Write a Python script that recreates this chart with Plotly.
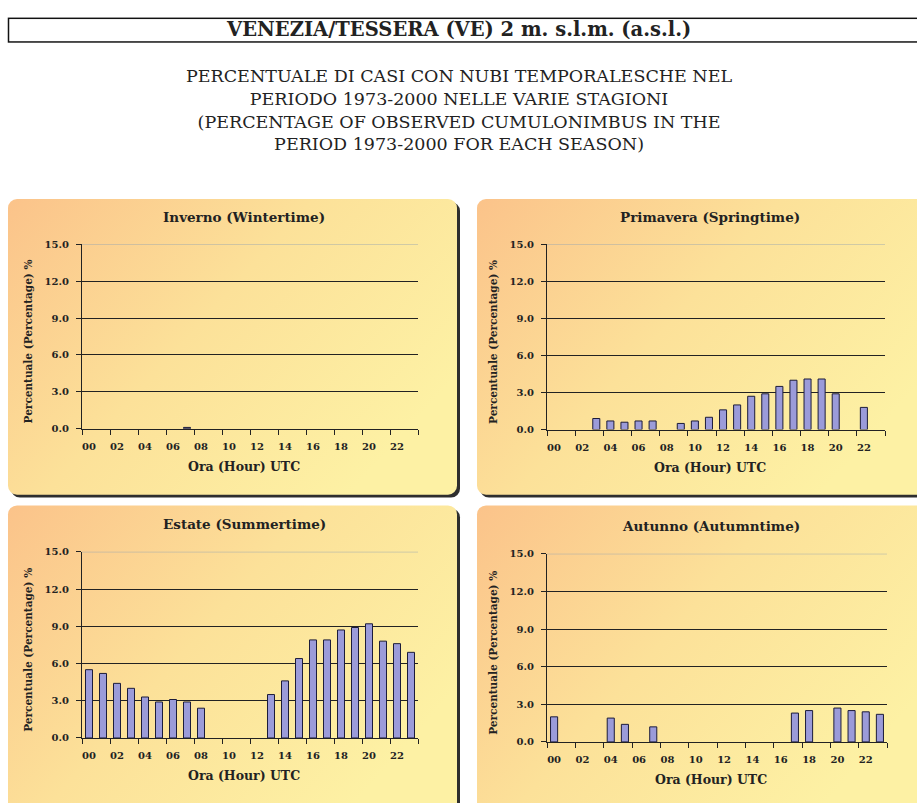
import base64
import plotly.graph_objects as go

W, H = 917, 809

HOURS = ["00", "01", "02", "03", "04", "05", "06", "07", "08", "09", "10", "11",
         "12", "13", "14", "15", "16", "17", "18", "19", "20", "21", "22", "23"]

WINTER = [0, 0, 0, 0, 0, 0, 0, 0.1, 0, 0, 0, 0,
          0, 0, 0, 0, 0, 0, 0, 0, 0, 0, 0, 0]
SPRING = [0, 0, 0, 0.9, 0.7, 0.6, 0.7, 0.7, 0, 0.5, 0.7, 1.0,
          1.6, 2.0, 2.7, 2.9, 3.5, 4.0, 4.1, 4.1, 2.9, 0, 1.8, 0]
SUMMER = [5.5, 5.2, 4.4, 4.0, 3.3, 2.9, 3.1, 2.9, 2.4, 0, 0, 0,
          0, 3.5, 4.6, 6.4, 7.9, 7.9, 8.7, 8.9, 9.2, 7.8, 7.6, 6.9]
AUTUMN = [2.0, 0, 0, 0, 1.9, 1.4, 0, 1.2, 0, 0, 0, 0,
          0, 0, 0, 0, 0, 2.3, 2.5, 0, 2.7, 2.5, 2.4, 2.2]

SEASONS = ["Inverno (Wintertime)", "Primavera (Springtime)",
           "Estate (Summertime)", "Autunno (Autumntime)"]
Y_TICKS = [0, 3, 6, 9, 12, 15]

TITLE = "VENEZIA/TESSERA (VE) 2 m. s.l.m. (a.s.l.)"
SUBTITLE = ("PERCENTUALE DI CASI CON NUBI TEMPORALESCHE NEL<br>"
            "PERIODO 1973-2000 NELLE VARIE STAGIONI<br>"
            "(PERCENTAGE OF OBSERVED CUMULONIMBUS IN THE<br>"
            "PERIOD 1973-2000 FOR EACH SEASON)")
X_TITLE = "Ora (Hour) UTC"
Y_TITLE = "Percentuale (Percentage) %"

SERIF = "DejaVu Serif"
INK = "#222222"

# plot-area boxes in pixels: left, right, top, bottom
boxes = [(82, 418, 242, 429), (547, 885, 242, 430),
         (82, 418, 554, 743), (547, 887, 556, 747)]
# panel cards in pixels: x, y, w, h
cards = [(8, 196, 449, 300), (477, 196, 450, 300),
         (8, 507, 449, 310), (477, 507, 450, 310)]


def px_x(v):
    return v / W


def px_y(v):
    return 1 - v / H


# background: rounded gradient cards + title box, as one svg image
svg = [f'<svg xmlns="http://www.w3.org/2000/svg" width="{W}" height="{H}" viewBox="0 0 {W} {H}" preserveAspectRatio="none">',
       '<defs><linearGradient id="g" x1="0" y1="0" x2="1" y2="0.6">'
       '<stop offset="0" stop-color="#fbc38a"/><stop offset="0.5" stop-color="#fce199"/>'
       '<stop offset="1" stop-color="#fdf1a4"/></linearGradient></defs>']
for x, y, w, h in cards:
    svg.append(f'<rect x="{x + 3}" y="{y + 3}" width="{w}" height="{h}" rx="9" fill="#2e2e2e"/>')
    svg.append(f'<rect x="{x}" y="{y}" width="{w}" height="{h}" rx="9" fill="url(#g)"/>')
svg.append('<rect x="8.5" y="12.5" width="930" height="24" fill="none" stroke="#111" stroke-width="1.5"/>')
svg.append('</svg>')
bg_src = "data:image/svg+xml;base64," + base64.b64encode("".join(svg).encode()).decode()

fig = go.Figure()
layout = dict(
    width=W, height=H, margin=dict(l=0, r=0, t=0, b=0),
    paper_bgcolor="white", plot_bgcolor="#d2ecf7",
    showlegend=False, bargap=0.5,
    images=[dict(source=bg_src, xref="paper", yref="paper", x=0, y=1,
                 sizex=1, sizey=1, sizing="stretch", xanchor="left", yanchor="top",
                 layer="below")],
)
annotations = [
    dict(text=f"<b>{TITLE}</b>", x=0.5, y=px_y(24), font=dict(size=19.5)),
    dict(text=SUBTITLE, x=0.5, y=px_y(106), font=dict(size=17.5)),
]
shapes = []

for i, (name, vals, box) in enumerate(zip(SEASONS, [WINTER, SPRING, SUMMER, AUTUMN], boxes)):
    n = "" if i == 0 else str(i + 1)
    l, r, t, b = box
    fig.add_trace(go.Bar(
        x=list(range(len(HOURS))), y=[v if v else None for v in vals],
        xaxis=f"x{n}", yaxis=f"y{n}",
        marker=dict(color="#9b9bd9", line=dict(color="#1c1c3a", width=1)),
    ))
    layout[f"xaxis{n}"] = dict(
        domain=[px_x(l), px_x(r)], anchor=f"y{n}", range=[-0.5, 23.5],
        tickvals=list(range(0, 24, 2)), ticktext=HOURS[::2],
        ticks="outside", ticklen=0, ticklabelstandoff=8,
        showgrid=False, zeroline=False,
        showline=True, linecolor=INK, linewidth=1.3,
        tickfont=dict(family=SERIF, size=10, color=INK, weight="bold"),
        minor=dict(tick0=-0.5, dtick=2, ticks="outside", ticklen=5,
                   tickcolor=INK, tickwidth=1.3),
    )
    layout[f"yaxis{n}"] = dict(
        domain=[px_y(b), px_y(t)], anchor=f"x{n}", range=[0, 15],
        tickvals=Y_TICKS, tickformat=".1f", ticks="outside", ticklen=5,
        ticklabelstandoff=5,
        tickcolor=INK, tickwidth=1.3, showgrid=False, zeroline=False,
        showline=True, linecolor=INK, linewidth=1.3,
        tickfont=dict(family=SERIF, size=10, color=INK, weight="bold"),
        minor=dict(tickvals=Y_TICKS[1:-1], showgrid=True, gridcolor=INK,
                   gridwidth=1.3, ticks=""),
    )
    shapes.append(dict(type="line", xref=f"x{n} domain", yref=f"y{n}",
                       x0=0, x1=1, y0=15, y1=15, line=dict(color="#9aa7b0", width=1)))
    cx = (l + r) / 2 - 6
    annotations.append(dict(text=f"<b>{name}</b>", x=px_x(cx), y=px_y(t - 28),
                            font=dict(size=13.5)))
    annotations.append(dict(text=f"<b>{X_TITLE}</b>", x=px_x(cx), y=px_y(b + 38),
                            font=dict(size=12.5)))
    annotations.append(dict(text=f"<b>{Y_TITLE}</b>", x=px_x(l - 54), y=px_y((t + b) / 2 + 5),
                            textangle=-90, font=dict(size=10.5)))

for a in annotations:
    a.update(xref="paper", yref="paper", showarrow=False, xanchor="center", yanchor="middle")
    a["font"].update(family=SERIF, color=INK)

layout["annotations"] = annotations
layout["shapes"] = shapes
fig.update_layout(**layout)

# drop the default 8px body margin so the figure fills the window exactly
fig.write_html("out.html", post_script="document.body.style.margin = '0';",
               config={"displayModeBar": False})
